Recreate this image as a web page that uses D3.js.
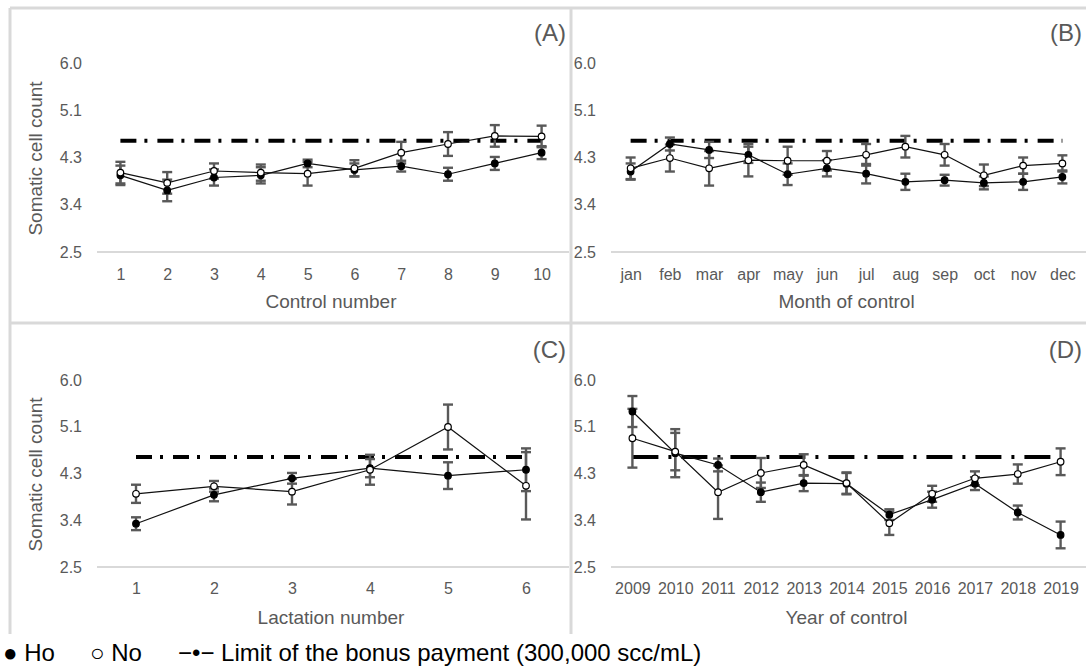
<!DOCTYPE html>
<html>
<head>
<meta charset="utf-8">
<script src="https://cdn.jsdelivr.net/npm/d3@7"></script>
<style>
  body { margin: 0; background: #fff; }
  svg { display: block; font-family: "Liberation Sans", Arial, sans-serif; }
</style>
</head>
<body>
<svg id="chart" width="1086" height="671"></svg>
<script>
// y axis is shared by all four panels
var yTicks = [2.5, 3.375, 4.25, 5.125, 6.0];
var yTickLabels = ["2.5", "3.4", "4.3", "5.1", "6.0"];
var limitValue = 4.56;

// (A) control number
var controlNumber = ["1", "2", "3", "4", "5", "6", "7", "8", "9", "10"];
var controlHo    = [3.92, 3.64, 3.88, 3.92, 4.14, 4.02, 4.09, 3.94, 4.14, 4.34];
var controlHoErr = [0.18, 0.20, 0.15, 0.15, 0.07, 0.12, 0.10, 0.12, 0.12, 0.12];
var controlNo    = [3.97, 3.78, 4.00, 3.97, 3.95, 4.05, 4.34, 4.50, 4.65, 4.64];
var controlNoErr = [0.20, 0.20, 0.14, 0.15, 0.22, 0.15, 0.20, 0.22, 0.20, 0.20];

// (B) month of control
var months     = ["jan", "feb", "mar", "apr", "may", "jun", "jul", "aug", "sep", "oct", "nov", "dec"];
var monthHo    = [3.99, 4.50, 4.39, 4.30, 3.94, 4.05, 3.95, 3.80, 3.83, 3.78, 3.80, 3.89];
var monthHoErr = [0.15, 0.12, 0.15, 0.15, 0.20, 0.15, 0.18, 0.15, 0.10, 0.12, 0.15, 0.12];
var monthNo    = [4.05, 4.24, 4.05, 4.20, 4.19, 4.19, 4.30, 4.45, 4.30, 3.92, 4.10, 4.14];
var monthNoErr = [0.20, 0.25, 0.32, 0.30, 0.26, 0.18, 0.20, 0.20, 0.20, 0.20, 0.15, 0.15];

// (C) lactation number
var lactation      = ["1", "2", "3", "4", "5", "6"];
var lactationHo    = [3.31, 3.85, 4.16, 4.35, 4.21, 4.32];
var lactationHoErr = [0.12, 0.12, 0.10, 0.17, 0.25, 0.40];
var lactationNo    = [3.87, 4.01, 3.91, 4.32, 5.12, 4.02];
var lactationNoErr = [0.17, 0.10, 0.24, 0.28, 0.42, 0.63];

// (D) year of control
var years     = ["2009", "2010", "2011", "2012", "2013", "2014", "2015", "2016", "2017", "2018", "2019"];
var yearHo    = [5.41, 4.63, 4.41, 3.90, 4.07, 4.06, 3.48, 3.76, 4.06, 3.52, 3.10];
var yearHoErr = [0.29, 0.45, 0.12, 0.18, 0.15, 0.20, 0.10, 0.15, 0.12, 0.13, 0.25];
var yearNo    = [4.91, 4.66, 3.90, 4.26, 4.41, 4.07, 3.32, 3.87, 4.16, 4.24, 4.47];
var yearNoErr = [0.55, 0.35, 0.50, 0.28, 0.20, 0.20, 0.22, 0.15, 0.13, 0.18, 0.25];

var grey = "#595959", frame = "#d9d9d9";

var panels = [
  {tag: "(A)", cats: controlNumber, ho: controlHo, hoErr: controlHoErr, no: controlNo, noErr: controlNoErr,
   title: "Control number", yTitle: true, x0: 97, x1: 565, lineEnd: 569, top: 63, bottom: 252, labelX: 82,
   tagX: 566, tagY: 41, pad: 17, titleY: 308, dash: "16,8,3,10"},
  {tag: "(B)", cats: months, ho: monthHo, hoErr: monthHoErr, no: monthNo, noErr: monthNoErr,
   title: "Month of control", yTitle: false, x0: 611, x1: 1082, lineEnd: 1086, top: 63, bottom: 252, labelX: 596,
   tagX: 1082, tagY: 41, pad: 17, titleY: 308, dash: "16,8,3,10"},
  {tag: "(C)", cats: lactation, ho: lactationHo, hoErr: lactationHoErr, no: lactationNo, noErr: lactationNoErr,
   title: "Lactation number", yTitle: true, x0: 97, x1: 565, lineEnd: 569, top: 380, bottom: 567, labelX: 82,
   tagX: 566, tagY: 358, pad: 16, titleY: 624, dash: "16,8,3,10"},
  {tag: "(D)", cats: years, ho: yearHo, hoErr: yearHoErr, no: yearNo, noErr: yearNoErr,
   title: "Year of control", yTitle: false, x0: 611, x1: 1082, lineEnd: 1086, top: 380, bottom: 567, labelX: 596,
   tagX: 1082, tagY: 358, pad: 16, titleY: 624, dash: "26,10,3,10"}
];

var svg = d3.select("#chart");

// panel frame
var frameLines = [[10, 8, 1086, 8], [10, 8, 10, 634], [571, 8, 571, 634], [10, 323, 1086, 323]];
svg.selectAll(".frame")
    .data(frameLines)
    .enter()
    .append("line")
    .attr("class", "frame")
    .attr("x1", function(d) { return d[0]; })
    .attr("y1", function(d) { return d[1]; })
    .attr("x2", function(d) { return d[2]; })
    .attr("y2", function(d) { return d[3]; })
    .style("stroke", frame)
    .style("stroke-width", 3);

panels.forEach(function(p) {
  var x = d3.scalePoint().domain(p.cats).range([p.x0, p.x1]).padding(0.5);
  var y = d3.scaleLinear().domain([2.5, 6.0]).range([p.bottom, p.top]);
  var g = svg.append("g");

  // baseline
  g.append("line")
      .attr("x1", p.x0).attr("x2", p.lineEnd)
      .attr("y1", y(2.5)).attr("y2", y(2.5))
      .style("stroke", frame)
      .style("stroke-width", 2);

  var yAxis = d3.axisLeft(y)
      .tickValues(yTicks)
      .tickFormat(function(d, i) { return yTickLabels[i]; })
      .tickSize(0)
      .tickPadding(0);
  var ya = g.append("g")
      .attr("transform", "translate(" + p.labelX + ",0)")
      .call(yAxis);
  ya.select(".domain").remove();
  ya.selectAll("text")
      .style("font-family", "Liberation Sans, Arial, sans-serif")
      .style("font-size", "16px")
      .style("fill", grey);

  var xAxis = d3.axisBottom(x).tickSize(0).tickPadding(p.pad);
  var xa = g.append("g")
      .attr("transform", "translate(0," + y(2.5) + ")")
      .call(xAxis);
  xa.select(".domain").remove();
  xa.selectAll("text")
      .style("font-family", "Liberation Sans, Arial, sans-serif")
      .style("font-size", "16px")
      .style("fill", grey);

  g.append("text")
      .attr("x", (p.x0 + p.x1) / 2)
      .attr("y", p.titleY)
      .style("text-anchor", "middle")
      .style("font-size", "19px")
      .style("fill", grey)
      .text(p.title);

  if (p.yTitle) {
    g.append("text")
        .attr("transform", "translate(42," + ((p.top + p.bottom) / 2 + 1) + ") rotate(-90)")
        .style("text-anchor", "middle")
        .style("font-size", "19px")
        .style("fill", grey)
        .text("Somatic cell count");
  }

  g.append("text")
      .attr("x", p.tagX)
      .attr("y", p.tagY)
      .style("text-anchor", "end")
      .style("font-size", "24px")
      .style("fill", grey)
      .text(p.tag);

  // bonus payment limit
  g.append("line")
      .attr("x1", x(p.cats[0])).attr("x2", x(p.cats[p.cats.length - 1]))
      .attr("y1", y(limitValue)).attr("y2", y(limitValue))
      .style("stroke", "#000")
      .style("stroke-width", 4)
      .style("stroke-dasharray", p.dash);

  var series = [
    {vals: p.ho, errs: p.hoErr, fill: "#000"},
    {vals: p.no, errs: p.noErr, fill: "#fff"}
  ];

  // error bars
  series.forEach(function(s) {
    var rows = p.cats.map(function(c, i) { return {c: c, v: s.vals[i], e: s.errs[i]}; });
    var eb = g.append("g").selectAll("g")
        .data(rows)
        .enter()
        .append("g")
        .style("stroke", grey)
        .style("stroke-width", 2.4);
    eb.append("line")
        .attr("x1", function(d) { return x(d.c); })
        .attr("x2", function(d) { return x(d.c); })
        .attr("y1", function(d) { return y(d.v + d.e); })
        .attr("y2", function(d) { return y(d.v - d.e); });
    eb.append("line")
        .attr("x1", function(d) { return x(d.c) - 5; })
        .attr("x2", function(d) { return x(d.c) + 5; })
        .attr("y1", function(d) { return y(d.v + d.e); })
        .attr("y2", function(d) { return y(d.v + d.e); });
    eb.append("line")
        .attr("x1", function(d) { return x(d.c) - 5; })
        .attr("x2", function(d) { return x(d.c) + 5; })
        .attr("y1", function(d) { return y(d.v - d.e); })
        .attr("y2", function(d) { return y(d.v - d.e); });
  });

  var line = d3.line()
      .x(function(d, i) { return x(p.cats[i]); })
      .y(function(d) { return y(d); });

  series.forEach(function(s) {
    g.append("path")
        .datum(s.vals)
        .attr("d", line)
        .style("fill", "none")
        .style("stroke", "#111")
        .style("stroke-width", 1.2);
  });

  series.forEach(function(s) {
    g.append("g").selectAll("circle")
        .data(s.vals)
        .enter()
        .append("circle")
        .attr("cx", function(d, i) { return x(p.cats[i]); })
        .attr("cy", function(d) { return y(d); })
        .attr("r", 3.3)
        .style("fill", s.fill)
        .style("stroke", "#000")
        .style("stroke-width", 1.2);
  });
});

// legend
var legend = svg.append("text")
    .attr("y", 661)
    .style("font-size", "24px")
    .style("fill", "#000");
legend.append("tspan").attr("x", 3).text("\u25CF Ho");
legend.append("tspan").attr("x", 90).text("\u25CB No");
legend.append("tspan").attr("x", 178).text("\u2212\u2022\u2212 Limit of the bonus payment (300,000 scc/mL)");
</script>
</body>
</html>
